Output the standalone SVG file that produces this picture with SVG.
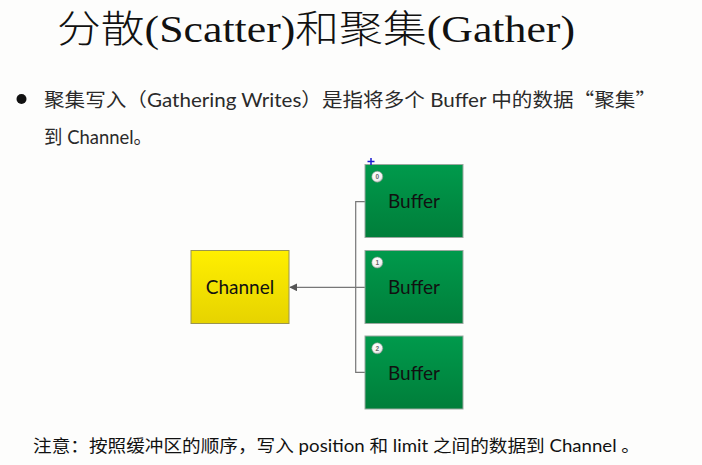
<svg xmlns="http://www.w3.org/2000/svg" width="702" height="465" viewBox="0 0 702 465">
<defs>
<linearGradient id="gy" x1="0" y1="0" x2="0" y2="1"><stop offset="0" stop-color="#FFEF00"/><stop offset="1" stop-color="#E6D300"/></linearGradient>
<linearGradient id="gg" x1="0" y1="0" x2="0" y2="1"><stop offset="0" stop-color="#009A4C"/><stop offset="1" stop-color="#007E3A"/></linearGradient>
<radialGradient id="gb" cx="0.4" cy="0.35" r="0.7"><stop offset="0" stop-color="#ffffff"/><stop offset="0.7" stop-color="#f2f2f2"/><stop offset="1" stop-color="#bdbdbd"/></radialGradient>
<marker id="arr" viewBox="0 0 10 10" refX="9" refY="5" markerWidth="8" markerHeight="8" markerUnits="userSpaceOnUse" orient="auto"><path d="M0,0 L10,5 L0,10 z" fill="#555"/></marker>
<style>
.title{font-family:"Liberation Serif","Noto Sans CJK SC",serif;font-size:38px;fill:#111;font-weight:300}
.body{font-family:Lato,"Noto Sans CJK SC",sans-serif;font-size:19px;fill:#2a2a2a}
.cjk{font-family:"Noto Sans CJK SC",sans-serif}
.note{font-family:Lato,"Noto Sans CJK SC",sans-serif;font-size:17px;fill:#111}
.lbl{font-family:Lato,"Noto Sans CJK SC",sans-serif;font-size:19px;fill:#111;text-anchor:middle}
.buf{fill:url(#gg);stroke:#9aa89f;stroke-width:1}
.ch{fill:url(#gy);stroke:#9a9450;stroke-width:1}
.badge{fill:url(#gb);stroke:#8a9a90;stroke-width:0.6}
.num{font-family:"Liberation Sans",sans-serif;font-size:6.5px;fill:#666;text-anchor:middle;font-weight:bold}
.conn{fill:none;stroke:#777;stroke-width:1.2}
</style>
</defs>
<rect x="0" y="0" width="702" height="465" fill="#fdfdfc"/>
<text class="title" x="57" y="42" textLength="518" lengthAdjust="spacingAndGlyphs">分散(Scatter)和聚集(Gather)</text>
<circle cx="21.5" cy="99" r="5" fill="#111"/>
<text class="body" x="44" y="107" textLength="612" lengthAdjust="spacingAndGlyphs">聚集写入（Gathering Writes）是指将多个 Buffer 中的数据<tspan class="cjk">“聚集”</tspan></text>
<text class="body" x="44" y="143.5" textLength="108" lengthAdjust="spacingAndGlyphs">到 Channel。</text>
<g id="connectors">
<path class="conn" d="M365,201.7 H355.7 V372.3 H365"/>
<path class="conn" d="M365,287.3 H290" marker-end="url(#arr)"/>
</g>
<g id="channel">
<rect class="ch" x="191" y="250.5" width="98" height="73"/>
<text class="lbl" x="240" y="293.5">Channel</text>
</g>
<g id="buffer0">
<rect class="buf" x="365" y="164.5" width="98" height="73"/>
<circle class="badge" cx="377.3" cy="176.7" r="5.5"/>
<text class="num" x="377.3" y="179">0</text>
<text class="lbl" x="414" y="208">Buffer</text>
</g>
<g id="buffer1">
<rect class="buf" x="365" y="250.5" width="98" height="73"/>
<circle class="badge" cx="377.3" cy="262.5" r="5.5"/>
<text class="num" x="377.3" y="264.8">1</text>
<text class="lbl" x="414" y="294">Buffer</text>
</g>
<g id="buffer2">
<rect class="buf" x="365" y="336" width="98" height="73"/>
<circle class="badge" cx="377.3" cy="348.3" r="5.5"/>
<text class="num" x="377.3" y="350.6">2</text>
<text class="lbl" x="414" y="379.5">Buffer</text>
</g>
<path d="M367.5,161.5 H374.5 M371,158 V165" stroke="#1a1ad0" stroke-width="1.5" fill="none"/>
<text class="note" x="33" y="452" textLength="607" lengthAdjust="spacingAndGlyphs">注意：按照缓冲区的顺序，写入 position 和 limit 之间的数据到 Channel 。</text>
</svg>
